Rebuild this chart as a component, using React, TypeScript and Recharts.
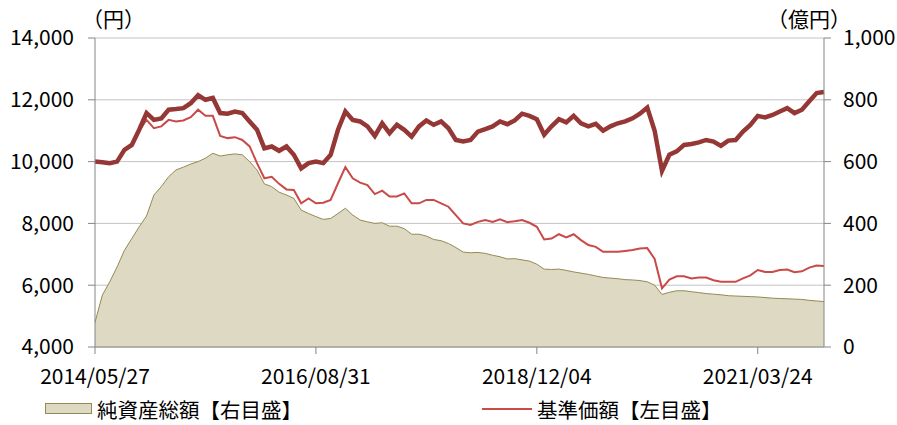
import React from 'react'
import { ComposedChart, Area, Line, XAxis, YAxis, CartesianGrid } from 'recharts'

const FONT = "'Noto Sans CJK JP', 'Noto Sans', sans-serif"

const xTickIndex = [0, 30, 60, 90]
const xTickLabels = ['2014/05/27', '2016/08/31', '2018/12/04', '2021/03/24']
const leftTicks = [4000, 6000, 8000, 10000, 12000, 14000]
const rightTicks = [0, 200, 400, 600, 800, 1000]

// 基準価額（分配金再投資）- thick line, left axis
const navReinvested = [
  10000, 9980, 9950, 10000, 10380, 10540, 11030, 11570, 11350, 11400,
  11680, 11700, 11730, 11890, 12150, 12000, 12060, 11570, 11550, 11620,
  11570, 11300, 11030, 10430, 10490, 10350, 10490, 10220, 9780, 9950,
  10000, 9950, 10220, 11030, 11620, 11350, 11300, 11140, 10830, 11240,
  10920, 11190, 11030, 10810, 11140, 11330, 11190, 11300, 11080, 10700,
  10650, 10700, 10970, 11050, 11140, 11300, 11210, 11330, 11550, 11480,
  11370, 10870, 11140, 11370, 11270, 11480, 11240, 11140, 11220, 11000,
  11140, 11240, 11300, 11400, 11550, 11750, 11000, 9700, 10220, 10330,
  10540, 10570, 10620, 10700, 10650, 10510, 10680, 10700, 10970, 11190,
  11480, 11430, 11510, 11620, 11730, 11570, 11680, 11950, 12220, 12250,
]

// 基準価額 - thin line, left axis
const nav = [
  10000, 9980, 9950, 10000, 10380, 10540, 11000, 11350, 11080, 11140,
  11350, 11300, 11330, 11440, 11680, 11480, 11480, 10830, 10760, 10790,
  10700, 10490, 9950, 9460, 9510, 9280, 9100, 9080, 8650, 8810,
  8650, 8670, 8760, 9300, 9820, 9460, 9320, 9240, 8950, 9060,
  8870, 8870, 8970, 8650, 8650, 8760, 8760, 8650, 8540, 8270,
  8000, 7950, 8050, 8110, 8050, 8130, 8040, 8070, 8110, 8020,
  7890, 7480, 7510, 7650, 7550, 7650, 7460, 7300, 7240, 7080,
  7080, 7080, 7110, 7140, 7190, 7200, 6850, 5900, 6180, 6290,
  6290, 6220, 6250, 6250, 6160, 6110, 6110, 6110, 6220, 6320,
  6490, 6430, 6430, 6490, 6510, 6420, 6450, 6570, 6640, 6620,
]

// 純資産総額（億円）- area, right axis
const netAssets = [
  80, 168, 211, 259, 313, 351, 389, 424, 492, 519,
  551, 573, 582, 592, 600, 611, 627, 618, 622, 625,
  622, 600, 573, 528, 519, 501, 492, 481, 443, 432,
  422, 413, 416, 432, 449, 427, 411, 405, 400, 402,
  391, 391, 383, 365, 365, 359, 348, 344, 335, 322,
  307, 305, 306, 303, 297, 292, 285, 286, 282, 278,
  268, 252, 251, 252, 248, 243, 239, 235, 230, 225,
  223, 221, 218, 217, 215, 211, 200, 170, 177, 182,
  182, 179, 176, 173, 171, 169, 166, 165, 164, 163,
  162, 160, 158, 157, 156, 155, 154, 151, 149, 147,
]

const data = nav.map((v, i) => ({
  i,
  nav: v,
  navRe: navReinvested[i],
  assets: netAssets[i],
}))

const axisColor = '#868686'
const tickStyle = { fill: '#000', fontSize: 21, fontFamily: FONT }
const fmt = (v: number) => v.toLocaleString('en-US')

export default function App() {
  return (
    <div style={{ position: 'absolute', left: 0, top: 0, width: 897, height: 425, background: '#fff', fontFamily: FONT }}>
      <ComposedChart
        width={897}
        height={425}
        data={data}
        margin={{ top: 38, right: 0, bottom: 38, left: 0 }}
      >
        <CartesianGrid yAxisId="left" vertical={false} stroke="#c3c3c3" />
        <XAxis
          dataKey="i"
          type="number"
          domain={[0, nav.length - 1]}
          ticks={xTickIndex}
          tickFormatter={(v: number) => xTickLabels[xTickIndex.indexOf(v)] ?? ''}
          height={40}
          stroke={axisColor}
          tickSize={7}
          tickMargin={15}
          tick={tickStyle}
          interval={0}
        />
        <YAxis
          yAxisId="left"
          domain={[4000, 14000]}
          ticks={leftTicks}
          tickFormatter={fmt}
          width={95}
          stroke={axisColor}
          tickSize={7}
          tickMargin={14}
          tick={tickStyle}
          interval={0}
        />
        <YAxis
          yAxisId="right"
          orientation="right"
          domain={[0, 1000]}
          ticks={rightTicks}
          tickFormatter={fmt}
          width={73}
          stroke={axisColor}
          tickSize={7}
          tickMargin={12}
          tick={{ ...tickStyle, textAnchor: 'start' }}
          interval={0}
        />
        <Area
          yAxisId="right"
          type="linear"
          dataKey="assets"
          stroke="#948A54"
          strokeWidth={1}
          fill="#DDD9C3"
          fillOpacity={1}
          isAnimationActive={false}
        />
        <Line
          yAxisId="left"
          type="linear"
          dataKey="nav"
          stroke="#C94A48"
          strokeWidth={2}
          dot={false}
          isAnimationActive={false}
        />
        <Line
          yAxisId="left"
          type="linear"
          dataKey="navRe"
          stroke="#953735"
          strokeWidth={4.5}
          dot={false}
          isAnimationActive={false}
        />
      </ComposedChart>

      <div style={{ position: 'absolute', left: 82, top: 4, fontSize: 21, lineHeight: '28px' }}>（円）</div>
      <div style={{ position: 'absolute', left: 767, top: 4, fontSize: 21, lineHeight: '28px' }}>（億円）</div>

      <div style={{ position: 'absolute', left: 45, top: 403, width: 47, height: 11, boxSizing: 'border-box', background: '#DDD9C3', border: '1px solid #948A54' }} />
      <div style={{ position: 'absolute', left: 97, top: 395, fontSize: 20.5, lineHeight: '28px' }}>純資産総額【右目盛】</div>
      <div style={{ position: 'absolute', left: 482, top: 408, width: 50, height: 2, background: '#C94A48' }} />
      <div style={{ position: 'absolute', left: 537, top: 395, fontSize: 20.5, lineHeight: '28px' }}>基準価額【左目盛】</div>
    </div>
  )
}
